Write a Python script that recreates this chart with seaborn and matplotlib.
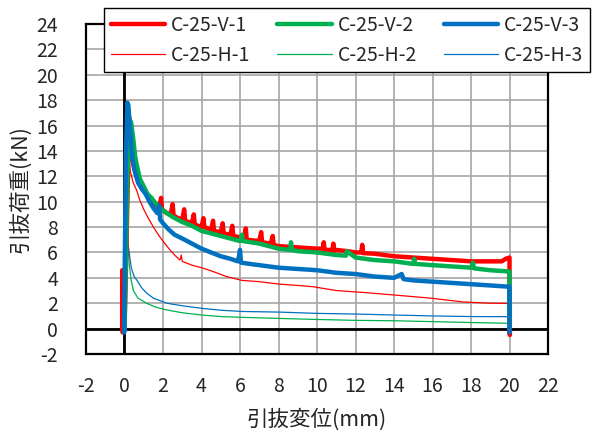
import matplotlib
matplotlib.use("Agg")
import matplotlib.pyplot as plt
import seaborn as sns
import pandas as pd

sns.set_style("white")
plt.rcParams['font.family'] = ['Noto Sans CJK JP', 'DejaVu Sans']
plt.rcParams['axes.unicode_minus'] = False

# ---- data ----
series_names = ["C-25-V-1", "C-25-V-2", "C-25-V-3", "C-25-H-1", "C-25-H-2", "C-25-H-3"]

v1_x = [0.0, -0.12, -0.12, -0.1, 0.0, 0.05, 0.15, 0.25, 0.3, 0.35, 0.45, 0.55, 0.65, 0.8, 1.0, 1.2, 1.4, 1.6,
        1.8, 1.9, 1.95, 2.2, 2.4, 2.5, 2.55, 2.8, 3.0, 3.1, 3.15, 3.5, 3.6, 3.65, 4.0, 4.1, 4.15, 4.5, 4.6, 4.65,
        5.0, 5.1, 5.15, 5.5, 5.6, 5.65, 6.0, 6.2, 6.3, 6.35, 7.0, 7.1, 7.15, 7.6, 7.7, 7.75, 8.0, 9.0, 10.0,
        10.3, 10.35, 10.4, 10.8, 10.85, 10.9, 11.0, 11.6, 12.0, 12.3, 12.35, 12.4, 13.0, 13.5, 14.0, 15.0,
        16.0, 17.0, 18.0, 19.0, 19.6, 19.8, 20.0, 20.0, 20.02, 20.0]
v1_y = [0.0, 0.0, 4.6, -0.3, 0.0, 3.0, 10.0, 16.6, 16.2, 14.5, 13.0, 12.4, 11.9, 11.4, 11.0, 10.5, 10.1, 9.8,
        9.5, 10.3, 9.4, 9.1, 9.0, 9.8, 8.9, 8.7, 8.6, 9.4, 8.5, 8.3, 9.0, 8.2, 8.0, 8.7, 8.0, 7.8, 8.5, 7.7,
        7.6, 8.3, 7.5, 7.4, 8.1, 7.3, 7.2, 7.1, 7.9, 7.0, 6.9, 7.6, 6.8, 6.7, 7.3, 6.6, 6.5, 6.4, 6.3,
        6.3, 6.8, 6.2, 6.2, 6.7, 6.1, 6.2, 6.1, 6.0, 6.0, 6.6, 5.95, 5.9, 5.8, 5.7, 5.6,
        5.5, 5.4, 5.3, 5.3, 5.3, 5.5, 5.6, 2.0, -0.5, 0.0]

v2_x = [0.0, 0.05, 0.15, 0.25, 0.35, 0.45, 0.55, 0.65, 0.8, 1.0, 1.2, 1.4, 1.6, 1.8, 2.0, 2.5, 3.0, 3.5,
        4.0, 4.5, 5.0, 5.5, 6.0, 6.1, 6.15, 7.0, 8.0, 8.6, 8.65, 8.7, 9.0, 10.0, 11.0, 11.5, 11.55, 12.0,
        12.5, 13.0, 14.0, 15.0, 15.05, 15.1, 16.0, 17.0, 18.0, 18.1, 18.15, 19.0, 20.0, 20.0]
v2_y = [0.0, 4.0, 12.0, 16.5, 16.2, 15.0, 13.6, 12.8, 11.8, 11.2, 10.6, 10.3, 9.9, 9.6, 9.3, 8.8, 8.4, 8.1,
        7.7, 7.5, 7.3, 7.1, 6.9, 7.4, 6.9, 6.7, 6.3, 6.2, 6.8, 6.2, 6.1, 6.0, 5.8, 5.75, 6.1, 5.6,
        5.5, 5.4, 5.3, 5.1, 5.5, 5.1, 5.0, 4.9, 4.8, 5.2, 4.75, 4.6, 4.5, 0.0]

v3_x = [0.0, -0.02, 0.02, 0.08, 0.15, 0.2, 0.3, 0.4, 0.5, 0.7, 0.9, 1.1, 1.3, 1.5, 1.7, 1.8, 1.85, 2.0, 2.3,
        2.6, 3.0, 3.5, 4.0, 4.5, 5.0, 5.5, 5.9, 6.0, 6.05, 6.5, 7.0, 8.0, 9.0, 10.0, 11.0, 12.0, 13.0, 14.0,
        14.4, 14.5, 15.0, 16.0, 17.0, 18.0, 19.0, 20.0, 20.0, 20.0]
v3_y = [0.0, -0.3, 6.0, 14.0, 17.8, 17.6, 15.5, 13.6, 12.6, 11.5, 11.0, 10.6, 10.0, 9.5, 9.1, 9.7, 8.6, 8.3, 7.8,
        7.4, 7.1, 6.7, 6.3, 6.0, 5.7, 5.5, 5.3, 6.2, 5.2, 5.1, 5.0, 4.8, 4.7, 4.6, 4.4, 4.3, 4.1, 4.0,
        4.3, 3.9, 3.8, 3.7, 3.6, 3.5, 3.4, 3.3, 0.3, -0.3]

h1_x = [0.0, 0.05, 0.1, 0.15, 0.2, 0.3, 0.45, 0.63, 0.8, 1.0, 1.2, 1.5, 1.8, 2.1, 2.36, 2.6, 2.88, 2.95, 3.0,
        3.5, 4.0, 4.6, 5.3, 6.1, 7.0, 8.08, 9.0, 9.8, 11.0, 12.4, 14.0, 15.9, 17.6, 19.0, 20.0, 20.1, 20.1]
h1_y = [0.0, 5.0, 11.0, 14.3, 13.6, 12.4, 11.5, 10.9, 10.1, 9.4, 8.8, 8.0, 7.3, 6.7, 6.2, 5.8, 5.4, 5.8, 5.3,
        5.0, 4.8, 4.5, 4.1, 3.8, 3.7, 3.5, 3.4, 3.3, 3.0, 2.85, 2.65, 2.4, 2.1, 2.0, 1.99, 1.9, -0.35]

h2_x = [0.0, 0.05, 0.1, 0.15, 0.25, 0.35, 0.46, 0.7, 1.15, 1.6, 2.2, 3.0, 4.0, 5.0, 6.1, 8.1, 10.0, 12.0,
        14.0, 16.0, 18.0, 20.0, 20.0]
h2_y = [0.0, 5.0, 8.5, 7.5, 5.0, 3.8, 3.0, 2.4, 2.0, 1.7, 1.47, 1.25, 1.07, 0.95, 0.89, 0.8, 0.72, 0.65,
        0.62, 0.55, 0.48, 0.42, 0.0]

h3_x = [0.0, 0.05, 0.1, 0.2, 0.35, 0.5, 0.65, 0.9, 1.15, 1.5, 2.2, 3.0, 4.0, 5.0, 6.1, 8.1, 10.0, 12.0,
        14.0, 16.0, 18.0, 20.0, 20.0]
h3_y = [0.0, 4.0, 7.8, 6.5, 4.8, 4.1, 3.8, 3.2, 2.8, 2.4, 2.0, 1.8, 1.6, 1.45, 1.35, 1.3, 1.2, 1.15,
        1.07, 1.0, 0.95, 0.94, 0.0]

x_ticks = list(range(-2, 23, 2))
y_ticks = list(range(-2, 25, 2))
x_label = "引抜変位(mm)"
y_label = "引抜荷重(kN)"

all_x = [v1_x, v2_x, v3_x, h1_x, h2_x, h3_x]
all_y = [v1_y, v2_y, v3_y, h1_y, h2_y, h3_y]
frames = []
for name, xs, ys in zip(series_names, all_x, all_y):
    frames.append(pd.DataFrame({"series": name, "disp": xs, "load": ys}))
df = pd.concat(frames, ignore_index=True)

colors = {"C-25-V-1": "#FF0000", "C-25-V-2": "#00B050", "C-25-V-3": "#0070C0",
          "C-25-H-1": "#FF0000", "C-25-H-2": "#00B050", "C-25-H-3": "#0070C0"}
widths = {"C-25-V-1": 3.2, "C-25-V-2": 3.2, "C-25-V-3": 3.2,
          "C-25-H-1": 0.9, "C-25-H-2": 0.9, "C-25-H-3": 0.9}

fig = plt.figure(figsize=(5.92, 4.37), dpi=100)
ax = fig.add_axes([86 / 592, 83 / 437, 462 / 592, 330 / 437])

handles = {}
for name in ["C-25-H-1", "C-25-H-2", "C-25-H-3", "C-25-V-1", "C-25-V-2", "C-25-V-3"]:
    sub = df[df["series"] == name]
    sns.lineplot(data=sub, x="disp", y="load", sort=False, estimator=None,
                 color=colors[name], linewidth=widths[name], ax=ax, legend=False, zorder=3)
    ln = ax.lines[-1]
    ln.set_label(name)
    ln.set_solid_joinstyle("round")
    handles[name] = ln

ax.set_xlim(-2, 22)
ax.set_ylim(-2, 24)
ax.set_xticks(x_ticks)
ax.set_yticks(y_ticks)
ax.grid(True, color="#A6A6A6", linewidth=1.2, zorder=0)
ax.set_axisbelow(True)
ax.axhline(0, color="black", linewidth=2.0, zorder=2)
ax.axvline(0, color="black", linewidth=2.0, zorder=2)
for sp in ax.spines.values():
    sp.set_color("black")
    sp.set_linewidth(1.6)
ax.tick_params(length=0, labelsize=14, colors="#262626")
ax.tick_params(axis="y", pad=20)
ax.tick_params(axis="x", pad=16)
ax.set_xlabel(x_label, fontsize=15.5, color="#262626", labelpad=8)
ax.set_ylabel(y_label, fontsize=15.5, color="#262626", labelpad=4)

order = ["C-25-V-1", "C-25-H-1", "C-25-V-2", "C-25-H-2", "C-25-V-3", "C-25-H-3"]
leg = ax.legend(handles=[handles[n] for n in order], labels=order, ncol=3,
                loc="upper left", bbox_to_anchor=(104 / 592, (437 - 72) / 437, 486 / 592, 64 / 437),
                bbox_transform=fig.transFigure, mode="expand", borderaxespad=0,
                fancybox=False, framealpha=1, edgecolor="black", fontsize=14,
                handlelength=2.8, handletextpad=0.3, labelspacing=0.45, borderpad=0.35)
leg.get_frame().set_linewidth(1.0)
leg.set_zorder(10)

fig.savefig("out.png", dpi=100)
